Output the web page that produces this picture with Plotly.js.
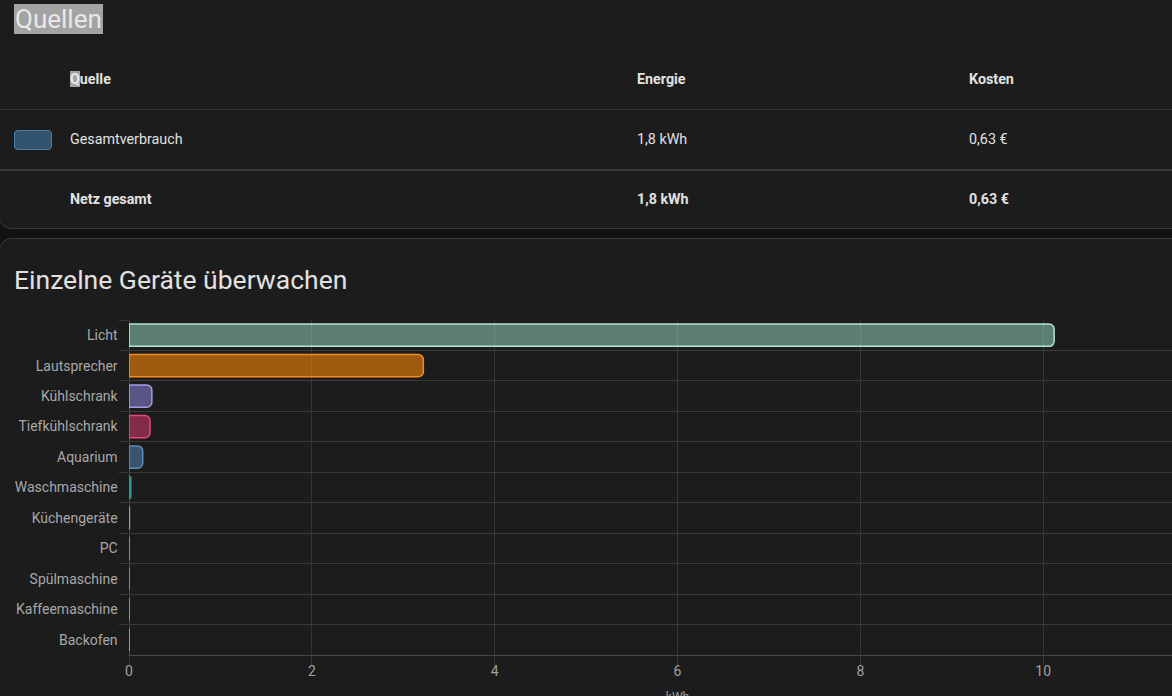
<!DOCTYPE html>
<html>
<head>
<meta charset="utf-8">
<script src="https://cdn.plot.ly/plotly-3.0.1.min.js"></script>
<style>
  html, body { margin:0; padding:0; width:1172px; height:696px; overflow:hidden; background:#111111; font-family: Roboto, "Noto Sans", sans-serif; }
  .card { position:absolute; left:-1px; width:1200px; background:#1c1c1c; border:1px solid #3a3a3a; border-radius:12px; box-sizing:border-box; }
  #card1 { top:-20px; height:249px; }
  #card2 { top:238px; height:600px; overflow:hidden; }
  .t { position:absolute; color:#e1e1e1; font-size:14.3px; line-height:16px; white-space:nowrap; }
  .b { font-weight:bold; }
  .hl { background:#a3a3a3; color:#e8e8e8; }
  .hr { position:absolute; left:0; width:1200px; height:1px; background:#353535; }
  #chart { position:absolute; left:0; top:61px; width:1240px; height:440px; }
</style>
</head>
<body>
<div class="card" id="card1">
  <div class="t" style="left:14px; top:23px; font-size:26px; line-height:30px; color:#e6e6e6;"><span class="hl" style="padding:0 1px;">Quellen</span></div>
  <div class="t b" style="left:70px; top:90px;"><span class="hl">Q</span>uelle</div>
  <div class="t b" style="left:637px; top:90px;">Energie</div>
  <div class="t b" style="left:969px; top:90px;">Kosten</div>
  <div class="hr" style="top:128px;"></div>
  <div style="position:absolute; left:14px; top:149px; width:36px; height:18px; background:#325470; border:1px solid #5080a8; border-radius:4px;"></div>
  <div class="t" style="left:70px; top:150px;">Gesamtverbrauch</div>
  <div class="t" style="left:637px; top:150px;">1,8 kWh</div>
  <div class="t" style="left:969px; top:150px;">0,63 €</div>
  <div class="hr" style="top:188px; height:2px; background:#3a3a3a;"></div>
  <div class="t b" style="left:70px; top:210px;">Netz gesamt</div>
  <div class="t b" style="left:637px; top:210px;">1,8 kWh</div>
  <div class="t b" style="left:969px; top:210px;">0,63 €</div>
</div>
<div class="card" id="card2">
  <div class="t" style="left:14px; top:26px; font-size:26.5px; line-height:30px; color:#e1e1e1;">Einzelne Geräte überwachen</div>
  <div id="chart"></div>
</div>
<script>
const devices = ["Licht","Lautsprecher","Kühlschrank","Tiefkühlschrank","Aquarium","Waschmaschine","Küchengeräte","PC","Spülmaschine","Kaffeemaschine","Backofen"];
const energyKWh = [10.12, 3.22, 0.25, 0.23, 0.15, 0.02, 0.005, 0.003, 0, 0, 0];
const xTicks = [0, 2, 4, 6, 8, 10];
const barFill = ["rgba(156,222,204,0.5)","rgba(230,125,10,0.65)","rgba(140,135,220,0.55)","rgba(232,60,115,0.5)","rgba(90,140,190,0.5)","rgba(40,170,150,0.6)","rgba(180,150,110,0.5)","rgba(120,160,90,0.5)","rgba(200,120,200,0.5)","rgba(120,180,220,0.5)","rgba(220,180,80,0.5)"];
const barLine = ["#b3e6d7","#f28c1e","#a29ce8","#e8457a","#5c8cb8","#2aa090","#b49a6e","#78a05a","#c878c8","#78b4dc","#dcb450"];

Plotly.newPlot('chart', [{
  type:'bar', orientation:'h',
  x: energyKWh, y: devices,
  marker:{ color: barFill, line:{ color: barLine, width:1.5 }, cornerradius:5 },
  hoverinfo:'skip'
}], {
  width:1240, height:440,
  margin:{ l:129, r:14, t:20, b:85 },
  paper_bgcolor:'rgba(0,0,0,0)', plot_bgcolor:'rgba(0,0,0,0)',
  bargap:0.27,
  showlegend:false,
  font:{ family:'Roboto, sans-serif', color:'#a6a6a6', size:14 },
  xaxis:{
    range:[0,12], tickvals: xTicks, ticktext: xTicks.map(String),
    gridcolor:'#363636', gridwidth:1,
    ticks:'outside', ticklen:9, tickcolor:'#363636',
    ticklabelstandoff:-6,
    zeroline:true, zerolinecolor:'#4a4a4a', zerolinewidth:1,
    showline:true, linecolor:'#4a4a4a', linewidth:1,
    tickfont:{ size:14, color:'#a0a0a0' },
    title:{ text:'kWh', font:{ size:12, color:'#a0a0a0' }, standoff:14 }
  },
  yaxis:{
    type:'category', autorange:'reversed',
    tickson:'boundaries',
    gridcolor:'#3a3a3a', gridwidth:1,
    ticks:'outside', ticklen:9, tickcolor:'#3a3a3a',
    showline:false, zeroline:false,
    tickfont:{ size:14, color:'#a8a8a8' },
    ticksuffix:'   '
  }
}, { staticPlot:true, displayModeBar:false });
</script>
</body>
</html>
